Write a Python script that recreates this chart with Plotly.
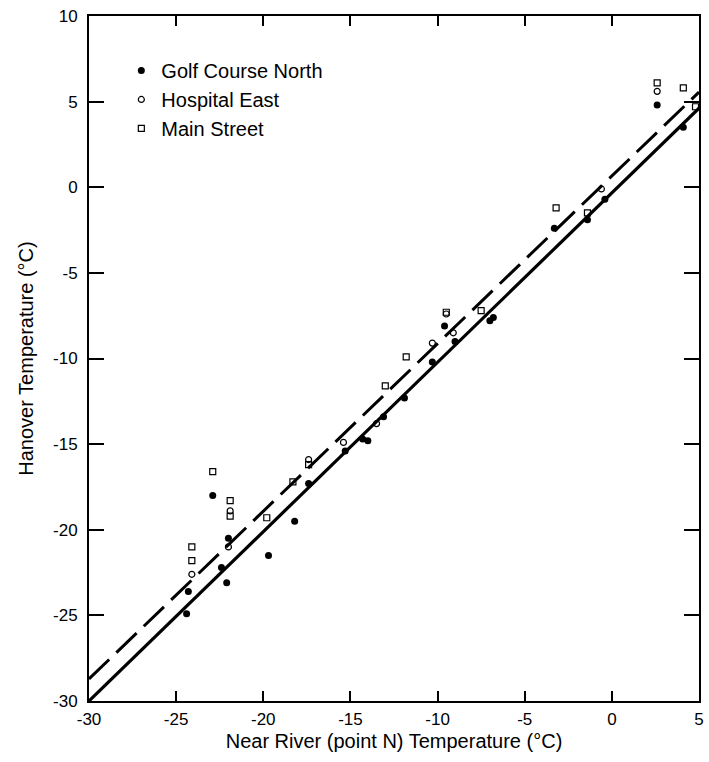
import plotly.graph_objects as go

# Station readings (°C): x = Near River (point N), y = Hanover
golf_x = [-24.4, -24.3, -22.4, -22.1, -22.9, -22.0, -19.7, -18.2, -17.4, -15.3,
          -14.3, -14.0, -13.1, -11.9, -10.3, -9.6, -9.0, -7.0, -6.8, -3.3,
          -1.4, -0.4, 2.6, 4.1]
golf_y = [-24.9, -23.6, -22.2, -23.1, -18.0, -20.5, -21.5, -19.5, -17.3, -15.4,
          -14.7, -14.8, -13.4, -12.3, -10.2, -8.1, -9.0, -7.8, -7.6, -2.4,
          -1.9, -0.7, 4.8, 3.5]

hosp_x = [-24.1, -22.0, -21.9, -17.4, -15.4, -13.5, -10.3, -9.1, -9.5, -0.6, 2.6]
hosp_y = [-22.6, -21.0, -18.9, -15.9, -14.9, -13.8, -9.1, -8.5, -7.4, -0.1, 5.6]

main_x = [-24.1, -24.1, -22.9, -21.9, -21.9, -19.8, -18.3, -17.4, -13.0, -11.8,
          -9.5, -7.5, -3.2, -1.4, 2.6, 4.1, 4.8]
main_y = [-21.0, -21.8, -16.6, -18.3, -19.2, -19.3, -17.2, -16.2, -11.6, -9.9,
          -7.3, -7.2, -1.2, -1.5, 6.1, 5.8, 4.7]

# Fitted lines: solid for Golf Course North, dashed for the other two stations
fit_x = [-30, 5]
solid_slope, solid_intercept = 0.989, -0.33
dashed_slope, dashed_intercept = 0.979, 0.66

x_ticks = [-30, -25, -20, -15, -10, -5, 0, 5]
y_ticks = [-30, -25, -20, -15, -10, -5, 0, 5, 10]

FONT = "Liberation Sans, Arial, Helvetica, sans-serif"

fig = go.Figure()

fig.add_trace(go.Scatter(
    x=fit_x, y=[solid_slope * v + solid_intercept for v in fit_x],
    mode="lines", line=dict(color="black", width=3.2), showlegend=False,
    hoverinfo="skip"))
fig.add_trace(go.Scatter(
    x=fit_x, y=[dashed_slope * v + dashed_intercept for v in fit_x],
    mode="lines", line=dict(color="black", width=3, dash="28px,10px"),
    showlegend=False, hoverinfo="skip"))

fig.add_trace(go.Scatter(
    x=golf_x, y=golf_y, mode="markers", name="Golf Course North",
    marker=dict(symbol="circle", size=7, color="black")))
fig.add_trace(go.Scatter(
    x=hosp_x, y=hosp_y, mode="markers", name="Hospital East",
    marker=dict(symbol="circle-open", size=6, color="black",
                line=dict(width=1.2, color="black"))))
fig.add_trace(go.Scatter(
    x=main_x, y=main_y, mode="markers", name="Main Street",
    marker=dict(symbol="square-open", size=6, color="black",
                line=dict(width=1.2, color="black"))))

axis_common = dict(
    showgrid=False, zeroline=False, showline=True, linecolor="black",
    linewidth=2, mirror="ticks", ticks="inside", tickcolor="black",
    tickwidth=1.5, tickfont=dict(family=FONT, size=17, color="black"),
)

fig.update_xaxes(
    range=[-30, 5], tickvals=x_ticks, ticktext=[str(v) for v in x_ticks],
    ticklen=10, ticklabelstandoff=2,
    title=dict(text="Near River (point N) Temperature (°C)",
               font=dict(family=FONT, size=20, color="black"), standoff=6),
    **axis_common)
fig.update_yaxes(
    range=[-30, 10], tickvals=y_ticks, ticktext=[str(v) for v in y_ticks],
    ticklen=15, ticklabelstandoff=6,
    title=dict(text="Hanover Temperature (°C)",
               font=dict(family=FONT, size=20, color="black"), standoff=14),
    **axis_common)

fig.update_layout(
    width=709, height=762,
    margin=dict(l=89, r=5, t=16, b=61),
    paper_bgcolor="white", plot_bgcolor="white",
    font=dict(family=FONT, color="black"),
    showlegend=True,
    legend=dict(
        x=0.053, y=0.949, xanchor="left", yanchor="top",
        font=dict(family=FONT, size=20, color="black"),
        bgcolor="rgba(0,0,0,0)", borderwidth=0,
    ),
)

fig.write_html("out.html")
